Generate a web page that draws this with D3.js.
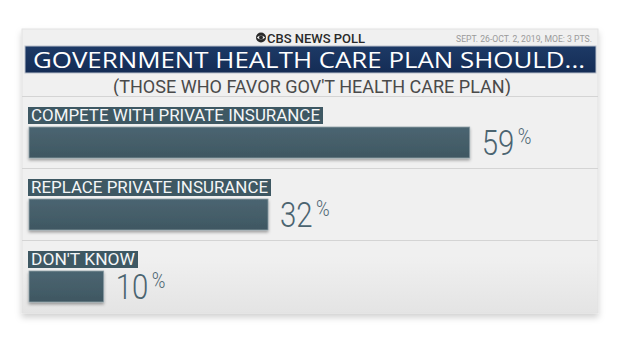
<!DOCTYPE html>
<html><head><meta charset="utf-8">
<script src="https://cdn.jsdelivr.net/npm/d3@7"></script>
<style>html,body{margin:0;padding:0;background:#fff;}svg{display:block;}</style>
</head><body>
<svg id="c" width="620" height="349"></svg>
<script>
const categories = ["COMPETE WITH PRIVATE INSURANCE", "REPLACE PRIVATE INSURANCE", "DON'T KNOW"];
const values = [59, 32, 10];
const valueLabels = ["59", "32", "10"];
const title = "GOVERNMENT HEALTH CARE PLAN SHOULD...";
const subtitle = "(THOSE WHO FAVOR GOV'T HEALTH CARE PLAN)";
const brand = "CBS NEWS POLL";
const note = "SEPT. 26-OCT. 2, 2019, MOE: 3 PTS.";

const svg = d3.select("#c");
const defs = svg.append("defs");

const pg = defs.append("linearGradient").attr("id","panelG").attr("x1",0).attr("x2",0).attr("y1",0).attr("y2",1);
pg.append("stop").attr("offset","0%").attr("stop-color","#f0f0f0");
pg.append("stop").attr("offset","80%").attr("stop-color","#f0f0f0");
pg.append("stop").attr("offset","100%").attr("stop-color","#e4e4e4");

const bg = defs.append("linearGradient").attr("id","barG").attr("x1",0).attr("x2",0).attr("y1",0).attr("y2",1);
bg.append("stop").attr("offset","0%").attr("stop-color","#4b6571");
bg.append("stop").attr("offset","100%").attr("stop-color","#3f5762");

const tg = defs.append("linearGradient").attr("id","titleG").attr("x1",0).attr("x2",0).attr("y1",0).attr("y2",1);
tg.append("stop").attr("offset","0%").attr("stop-color","#1d3a66");
tg.append("stop").attr("offset","100%").attr("stop-color","#142c55");

const sh = defs.append("filter").attr("id","sh").attr("x","-10%").attr("y","-20%").attr("width","130%").attr("height","160%");
sh.append("feDropShadow").attr("dx",0).attr("dy",2).attr("stdDeviation",1.6).attr("flood-color","#000").attr("flood-opacity",0.35);

const psh = defs.append("filter").attr("id","psh").attr("x","-5%").attr("y","-5%").attr("width","110%").attr("height","115%");
psh.append("feDropShadow").attr("dx",0).attr("dy",4).attr("stdDeviation",3).attr("flood-color","#000").attr("flood-opacity",0.18);

// panel
svg.append("rect").attr("x",22).attr("y",29).attr("width",576).attr("height",284)
  .attr("fill","url(#panelG)").attr("stroke","#e2e2e2").attr("stroke-width",1).attr("filter","url(#psh)");

// brand
const logoX = 261, logoY = 37.5;
svg.append("circle").attr("cx",logoX).attr("cy",logoY).attr("r",5).attr("fill","#2a2a2a");
svg.append("path").attr("d",`M${logoX-4.2},${logoY} Q${logoX},${logoY-4.2} ${logoX+4.2},${logoY} Q${logoX},${logoY+4.2} ${logoX-4.2},${logoY}Z`).attr("fill","#f0f0f0");
svg.append("circle").attr("cx",logoX).attr("cy",logoY).attr("r",2).attr("fill","#2a2a2a");
svg.append("text").attr("x",267).attr("y",42.5).attr("font-family","Roboto").attr("font-weight",500)
  .attr("font-size",12.5).attr("fill","#2a2a2a").attr("textLength",98).attr("lengthAdjust","spacingAndGlyphs").text(brand);
svg.append("text").attr("x",592).attr("y",42).attr("text-anchor","end").attr("font-family","Roboto")
  .attr("font-size",8.6).attr("fill","#9a9a9a").attr("textLength",136).attr("lengthAdjust","spacingAndGlyphs").text(note);

// title bar
svg.append("rect").attr("x",25).attr("y",46).attr("width",571).attr("height",27)
  .attr("fill","url(#titleG)").attr("stroke","#b9c0cc").attr("stroke-width",1);
svg.append("text").attr("x",33).attr("y",68).attr("font-family","Open Sans").attr("font-weight",400).attr("font-size",22.5)
  .attr("fill","#ffffff").attr("textLength",552).attr("lengthAdjust","spacingAndGlyphs").text(title);

// subtitle
svg.append("text").attr("x",113).attr("y",93).attr("font-family","Roboto").attr("font-size",18)
  .attr("fill","#4a4a4a").attr("textLength",398).attr("lengthAdjust","spacingAndGlyphs").text(subtitle);

svg.append("line").attr("x1",22).attr("x2",598).attr("y1",96.5).attr("y2",96.5).attr("stroke","#d4d4d4").attr("stroke-width",1.2);

// scales
const x = d3.scaleLinear().domain([0,100]).range([29, 29 + 747]);
const y = d3.scaleBand().domain(categories).range([99, 315]).paddingInner(0).paddingOuter(0);

const rows = svg.selectAll("g.row").data(categories).join("g").attr("class","row")
  .attr("transform", d => `translate(0,${y(d)})`);

rows.filter((d,i) => i>0).append("line").attr("x1",22).attr("x2",598).attr("y1",-2.5).attr("y2",-2.5)
  .attr("stroke","#d4d4d4").attr("stroke-width",1.2);

// category label boxes
const labelW = [289, 237, 104];
rows.each(function(d,i){
  const g = d3.select(this);
  g.append("rect").attr("x",28).attr("y",8).attr("width",labelW[i]+6).attr("height",17).attr("fill","#3e5863");
  g.append("text").attr("x",31).attr("y",22).attr("font-family","Roboto").attr("font-weight",400).attr("font-size",16)
    .attr("fill","#f4f6f7").attr("textLength",labelW[i]).attr("lengthAdjust","spacingAndGlyphs").text(d);
});

// bars
rows.append("rect").attr("x",x(0)).attr("y",28).attr("height",31)
  .attr("width",(d,i) => x(values[i]) - x(0))
  .attr("fill","url(#barG)").attr("stroke","#8fa0a8").attr("stroke-width",0.8).attr("filter","url(#sh)");

// value labels (number + superscript %)
rows.each(function(d,i){
  const g = d3.select(this).append("g").attr("transform",`translate(${x(values[i]) + 12},56) scale(0.84,1)`);
  const t = g.append("text").attr("font-family","Roboto").attr("font-weight",300).attr("font-size",35)
    .attr("fill","#4b6470");
  t.append("tspan").text(valueLabels[i]);
  t.append("tspan").attr("dx",4).attr("dy",-11).attr("font-size",22).text("%");
});
</script>
</body></html>
